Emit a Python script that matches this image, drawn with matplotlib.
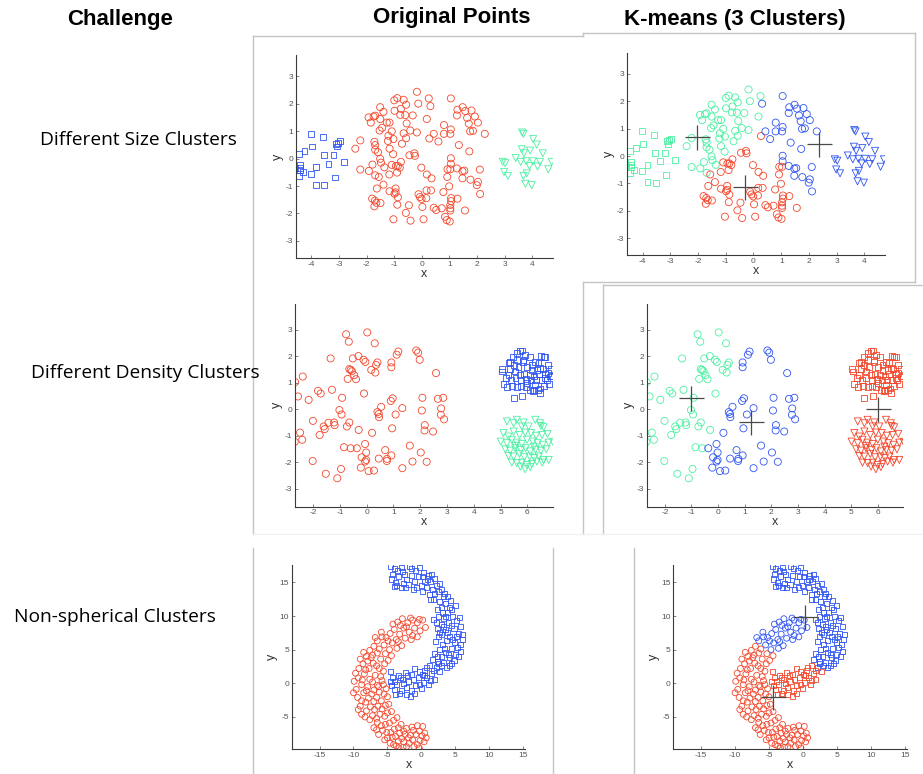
import numpy as np
import matplotlib
matplotlib.use("Agg")
import matplotlib.pyplot as plt
from matplotlib.lines import Line2D

matplotlib.rcParams["font.family"] = ["Liberation Sans", "DejaVu Sans"]
matplotlib.rcParams["axes.unicode_minus"] = False

W, H = 923, 774

RED = "#f4472c"
BLUE = "#2f55f2"
GREEN = "#4cf0a2"

# ---------------- data: row 1 (different size) ----------------
size_squares = [(-4.03, 0.90), (-3.58, 0.78), (-3.97, 0.44), (-4.25, 0.29), (-4.46, 0.18),
                (-3.11, 0.54), (-3.05, 0.58), (-2.98, 0.63), (-3.09, 0.44), (-3.20, 0.12),
                (-3.56, 0.12), (-3.38, -0.19), (-2.83, -0.13), (-3.82, -0.32), (-4.02, -0.56),
                (-4.43, -0.23), (-4.43, -0.33), (-4.58, -0.35), (-4.43, -0.41), (-4.31, -0.50),
                (-4.44, -0.63), (-3.16, -0.69), (-3.82, -0.95), (-3.53, -0.97)]

size_triangles = [(3.63, 0.95), (3.68, 0.90), (4.03, 0.71), (4.16, 0.51), (3.62, 0.34),
                  (3.92, 0.29), (3.70, 0.19), (4.38, 0.19), (3.40, 0.02), (3.58, -0.12),
                  (3.78, -0.10), (4.02, -0.10), (4.28, -0.12), (4.70, -0.12), (2.93, -0.12),
                  (3.02, -0.17), (3.90, -0.27), (4.19, -0.29), (4.58, -0.39), (2.98, -0.49),
                  (3.80, -0.54), (3.12, -0.63), (3.68, -0.63), (3.75, -0.92), (3.98, -0.97)]

size_circles = [(-0.18, 2.43), (1.05, 2.19), (0.25, 2.19), (-0.89, 2.20), (-1.00, 2.12),
                (-0.66, 2.14), (-0.13, 2.00), (-0.57, 1.96), (0.31, 1.91), (-1.51, 1.87),
                (-1.39, 1.70), (-0.99, 1.74), (-0.76, 1.81), (1.48, 1.87), (1.57, 1.73),
                (1.29, 1.78), (1.80, 1.75), (1.27, 1.57), (1.64, 1.48), (1.92, 1.53),
                (1.70, 1.27), (2.03, 1.31), (1.85, 1.01), (1.75, 0.99), (-1.93, 1.50),
                (-1.85, 1.31), (-1.75, 1.53), (-1.69, 1.56), (-1.51, 1.44), (-1.27, 1.31),
                (-1.17, 1.31), (-0.78, 1.59), (-0.60, 1.58), (-0.33, 1.57), (-0.55, 1.28),
                (0.18, 1.44), (-1.53, 1.02), (-1.44, 1.12), (-1.09, 0.99), (-1.21, 0.83),
                (-0.66, 0.92), (-0.57, 0.74), (-0.42, 1.02), (-0.18, 0.95), (0.27, 0.73),
                (0.60, 0.62), (0.43, 0.90), (0.80, 1.22), (0.80, 0.90), (1.03, 0.90),
                (1.05, 1.06), (2.28, 0.90), (1.34, 0.49), (-2.23, 0.66), (-1.72, 0.61),
                (-1.69, 0.49), (-1.23, 0.64), (-1.03, 0.71), (-1.17, 0.36), (-0.72, 0.54),
                (-2.41, 0.36), (-1.69, 0.32), (-1.59, 0.23), (-1.04, 0.16), (-0.27, 0.19),
                (-0.45, 0.12), (-0.25, 0.10), (-1.51, -0.01), (-1.48, -0.15), (1.05, 0.01),
                (1.72, 0.26), (-1.79, -0.22), (-1.36, -0.32), (-0.76, -0.12), (-0.87, -0.27),
                (-0.80, -0.33), (-1.09, -0.23), (-0.94, -0.27), (1.05, -0.19), (-0.02, -0.33),
                (1.03, -0.39), (0.93, -0.39), (1.27, -0.36), (1.47, -0.46), (1.54, -0.44),
                (2.10, -0.40), (-2.23, -0.40), (-1.92, -0.45), (-1.69, -0.61), (-1.56, -0.67),
                (-1.18, -0.58), (-0.90, -0.51), (0.18, -0.58), (0.35, -0.72), (0.92, -0.67),
                (1.47, -0.72), (1.76, -0.77), (2.03, -0.85), (1.99, -0.97), (-1.39, -0.95),
                (-1.63, -1.09), (0.99, -1.01), (-0.95, -1.09), (-0.95, -1.23), (-0.99, -1.28),
                (-0.87, -1.41), (-1.17, -1.19), (0.17, -1.16), (0.33, -1.16), (0.78, -1.22),
                (2.11, -1.29), (-1.80, -1.46), (-1.70, -1.53), (-1.65, -1.61), (-1.50, -1.62),
                (-1.72, -1.74), (-0.89, -1.68), (-0.12, -1.30), (-0.07, -1.40), (-0.01, -1.47),
                (0.16, -1.44), (1.06, -1.44), (1.06, -1.55), (1.03, -1.69), (1.29, -1.46),
                (1.03, -1.81), (1.03, -1.89), (-0.47, -1.70), (0.02, -1.76), (0.43, -1.79),
                (0.52, -1.87), (0.72, -1.81), (1.56, -1.89), (-0.58, -1.98), (-1.03, -2.21),
                (-0.41, -2.26), (0.06, -2.21), (0.84, -2.12), (0.90, -2.24), (1.01, -2.29)]

size_centroids = [(-2.05, 0.68), (-0.29, -1.13), (2.37, 0.43)]
size_centroid_colors = [GREEN, RED, BLUE]

# ---------------- data: row 2 (different density) ----------------
dens_circles = [(-0.77, 2.82), (-0.67, 2.54), (0.02, 2.89), (0.30, 2.48), (1.18, 2.17),
                (1.85, 2.21), (1.92, 2.13), (1.98, 1.86), (1.12, 2.05), (0.92, 1.76),
                (0.92, 1.58), (0.40, 1.76), (0.35, 1.67), (0.17, 1.48), (0.32, 1.38),
                (-0.12, 1.86), (-0.05, 1.78), (-0.31, 2.00), (-0.52, 1.91), (-1.35, 1.91),
                (-0.65, 1.51), (-0.60, 1.48), (-0.55, 1.43), (-0.47, 1.28), (-0.40, 1.13),
                (-0.71, 1.14), (2.59, 1.36), (-2.68, 1.02), (-2.39, 1.23), (-1.82, 0.69),
                (-1.72, 0.59), (-1.30, 0.73), (-2.17, 0.35), (-2.57, 0.48), (-0.92, 0.43),
                (-0.10, 0.59), (2.08, 0.43), (2.66, 0.39), (2.86, 0.43), (0.97, 0.41),
                (0.90, 0.31), (0.54, 0.09), (1.33, 0.04), (2.78, 0.03), (2.06, -0.05),
                (-1.02, -0.03), (-0.94, -0.20), (0.40, -0.11), (0.45, -0.18), (0.46, -0.30),
                (1.08, -0.20), (2.77, -0.21), (2.89, -0.38), (-2.01, -0.44), (-1.43, -0.51),
                (-1.22, -0.50), (-1.20, -0.60), (-1.61, -0.65), (-1.57, -0.75), (-0.65, -0.50),
                (-0.74, -0.65), (-1.76, -0.97), (-2.49, -0.88), (-2.41, -1.15), (-2.69, -1.23),
                (-0.30, -0.78), (0.20, -0.89), (2.17, -0.60), (2.16, -0.80), (2.48, -0.84),
                (0.95, -0.72), (-0.06, -1.31), (-0.85, -1.43), (-0.60, -1.47), (-0.37, -1.47),
                (-0.02, -1.63), (-0.19, -1.81), (-0.02, -1.91), (-0.06, -1.97), (0.69, -1.54),
                (0.92, -1.74), (0.76, -1.87), (0.75, -1.95), (0.45, -1.86), (1.61, -1.37),
                (2.02, -1.63), (1.71, -1.97), (2.24, -1.98), (-2.02, -1.95), (-1.53, -2.43),
                (-0.96, -2.25), (-1.10, -2.60), (-0.22, -2.20), (0.07, -2.33), (0.27, -2.31),
                (1.33, -2.22)]

dens_squares = [(5.04, 1.51), (5.05, 1.42), (5.30, 1.73), (5.36, 1.79), (5.46, 1.96),
                (5.61, 2.13), (5.74, 2.18), (5.80, 2.21), (5.92, 2.05), (6.09, 1.96),
                (6.30, 1.79), (6.51, 2.01), (6.61, 1.98), (6.67, 1.96), (5.49, 1.67),
                (5.67, 1.58), (5.84, 1.76), (5.99, 1.58), (6.17, 1.48), (6.36, 1.48),
                (6.48, 1.54), (6.58, 1.51), (6.76, 1.67), (6.88, 1.51), (5.36, 1.51),
                (5.55, 1.42), (5.74, 1.29), (5.89, 1.33), (6.09, 1.29), (6.26, 1.23),
                (6.43, 1.33), (6.67, 1.33), (6.86, 1.23), (6.92, 1.26), (5.21, 1.17),
                (5.39, 1.10), (5.56, 1.17), (5.76, 1.10), (5.96, 1.15), (6.14, 1.10),
                (6.33, 1.10), (6.53, 1.10), (6.73, 1.10), (5.11, 0.95), (5.24, 0.85),
                (5.44, 0.88), (5.61, 0.85), (5.76, 0.88), (5.94, 0.83), (6.11, 0.73),
                (6.26, 0.73), (6.46, 0.78), (6.61, 0.88), (6.80, 0.95), (6.21, 0.67),
                (5.49, 0.41), (5.80, 0.50), (6.48, 0.60), (6.39, 0.73), (6.67, 1.17),
                (5.86, 1.86), (6.17, 1.67), (6.42, 1.73), (5.61, 1.86), (5.99, 0.98),
                (6.30, 0.92), (5.30, 1.29), (6.76, 1.36)]

dens_triangles = [(5.24, -0.46), (5.49, -0.53), (5.61, -0.40), (5.86, -0.50), (6.05, -0.65),
                  (6.30, -0.40), (6.51, -0.63), (6.61, -0.68), (5.11, -0.90), (5.30, -1.03),
                  (5.49, -0.84), (5.71, -0.97), (5.92, -0.88), (6.14, -0.90), (6.33, -1.00),
                  (6.55, -0.97), (6.76, -0.93), (5.01, -1.22), (5.24, -1.28), (5.42, -1.15),
                  (5.61, -1.26), (5.80, -1.31), (5.99, -1.15), (6.21, -1.22), (6.39, -1.28),
                  (6.58, -1.34), (6.80, -1.26), (6.96, -1.23), (5.18, -1.51), (5.36, -1.56),
                  (5.55, -1.47), (5.76, -1.53), (5.94, -1.47), (6.11, -1.59), (6.31, -1.53),
                  (6.51, -1.56), (6.71, -1.51), (5.30, -1.76), (5.49, -1.78), (5.71, -1.68),
                  (5.89, -1.81), (6.09, -1.78), (6.26, -1.84), (6.43, -1.78), (6.61, -1.91),
                  (6.80, -1.91), (5.42, -2.01), (5.61, -2.03), (5.80, -2.01), (5.99, -2.10),
                  (6.17, -2.06), (6.36, -1.97), (6.56, -2.01), (5.74, -2.16), (5.92, -2.26),
                  (6.11, -2.18), (6.48, -0.53), (5.80, -0.65), (5.55, -1.38), (6.24, -1.41)]

dens_centroids = [(-1.02, 0.41), (1.24, -0.49), (6.00, 0.00)]
dens_centroid_colors = [GREEN, BLUE, RED]

# ---------------- data: row 3 (non-spherical) ----------------
moon_squares = [(-4.5, 17.4), (-4.2, 16.2), (-4.4, 15.5), (-3.8, 15.0), (-4.0, 14.4),
                (-3.5, 16.8), (-3.0, 17.2), (-3.3, 15.9), (-2.7, 14.8), (-3.0, 14.2),
                (-2.5, 16.2), (-2.2, 15.4), (-1.8, 17.3), (-1.5, 16.0), (-1.9, 14.7),
                (-1.2, 14.0), (-1.0, 15.2), (-0.8, 16.7), (-0.3, 17.2), (-0.5, 15.8),
                (0.0, 14.6), (0.3, 16.4), (0.5, 15.2), (0.2, 13.6), (0.8, 14.2),
                (1.0, 16.0), (1.4, 15.1), (1.2, 13.2), (1.7, 14.0), (1.9, 15.6),
                (2.2, 14.6), (1.8, 12.5), (2.5, 13.6), (2.6, 12.1), (3.0, 14.0),
                (3.2, 12.9), (2.9, 11.3), (3.5, 11.8), (3.8, 12.9), (2.3, 11.0),
                (4.2, 11.3), (3.8, 10.5), (2.5, 10.0), (3.2, 9.6), (4.6, 10.0),
                (5.0, 11.5), (1.8, 9.5), (2.9, 8.7), (4.0, 9.1), (5.2, 9.3),
                (3.5, 8.0), (4.8, 8.2), (2.3, 8.1), (5.8, 8.5), (3.0, 7.3),
                (4.2, 7.0), (5.4, 7.4), (2.5, 6.9), (3.7, 6.3), (4.9, 6.0),
                (6.0, 6.5), (5.3, 5.3), (2.1, 6.2), (3.1, 5.7), (4.4, 5.1),
                (2.6, 5.0), (3.6, 4.6), (5.0, 4.3), (1.9, 4.4), (2.9, 4.0),
                (4.2, 3.8), (5.5, 4.0), (1.6, 3.5), (3.3, 3.1), (2.4, 3.3),
                (4.5, 3.0), (3.7, 2.4), (1.2, 2.6), (2.2, 2.3), (0.5, 1.9),
                (1.5, 1.5), (2.7, 1.7), (-0.3, 1.8), (0.8, 0.9), (1.9, 0.6),
                (-1.0, 2.2), (-0.5, 0.8), (0.3, 0.1), (1.1, -0.2), (-1.5, 1.3),
                (-1.9, 0.3), (-0.9, -0.3), (0.0, -0.8), (-2.4, 1.6), (-2.8, 0.5),
                (-2.2, -0.6), (-1.4, -1.0), (-3.4, 1.2), (-3.6, -0.2), (-2.9, -1.1),
                (-2.2, -1.6), (-4.2, 0.8), (-4.4, -0.3), (-3.8, -1.6), (-4.5, 1.8),
                (-1.6, -1.9), (0.4, 1.2),
                (-4.0, 17.0), (-3.6, 14.6), (-2.8, 16.6), (-2.4, 14.2), (-1.4, 17.0),
                (-0.7, 14.3), (0.1, 15.9), (0.9, 15.5), (1.5, 16.2), (2.0, 13.4),
                (2.7, 14.9), (3.4, 13.3), (1.3, 12.4), (3.1, 10.5), (4.3, 12.3),
                (4.5, 11.0), (3.5, 10.0), (2.2, 9.0), (4.4, 8.6), (5.6, 9.8),
                (3.3, 8.4), (5.1, 7.0), (2.7, 7.6), (3.9, 7.5), (6.1, 7.3),
                (4.6, 6.5), (5.7, 5.8), (3.4, 5.2), (4.0, 4.3), (5.8, 4.8),
                (2.3, 4.0), (4.8, 3.4), (3.0, 2.7), (4.1, 2.6), (2.5, 2.9),
                (1.8, 1.9), (0.7, 2.4), (0.1, 1.3), (1.3, 0.4), (-0.3, -0.2),
                (-1.2, 0.5), (-2.0, 1.1), (-2.6, -0.1), (-3.1, 0.9), (-3.9, 0.2),
                (-4.0, -0.9), (-3.2, -1.5), (-1.0, -1.5), (-4.6, 0.3)]

moon_circles = [(0.2, 9.4), (-0.6, 9.0), (-1.3, 9.4), (-2.0, 9.0), (-2.8, 9.6),
                (-3.5, 9.1), (-1.0, 8.2), (-0.2, 7.8), (0.6, 8.3), (-1.8, 7.6),
                (-2.6, 8.2), (-3.2, 7.3), (-4.0, 8.0), (-4.6, 7.4), (-0.6, 6.9),
                (-1.5, 6.5), (-2.4, 6.7), (-3.7, 6.5), (-4.3, 6.0), (-5.2, 6.8),
                (-5.9, 7.6), (-6.5, 6.3), (-2.9, 5.6), (-3.6, 5.2), (-4.7, 5.0),
                (-5.5, 5.7), (-6.2, 5.1), (-7.0, 5.5), (-4.4, 4.1), (-5.3, 4.4),
                (-6.0, 3.6), (-7.2, 4.2), (-7.9, 3.3), (-8.5, 4.6), (-5.4, 2.9),
                (-6.6, 2.6), (-7.7, 2.2), (-8.6, 2.9), (-9.2, 2.2), (-5.6, 1.8),
                (-6.8, 1.2), (-7.6, 0.6), (-8.4, 1.4), (-9.3, 0.8), (-9.9, 0.3),
                (-5.8, 0.4), (-6.5, -0.3), (-7.9, -0.5), (-8.8, -0.2), (-9.6, -0.9),
                (-5.2, -0.8), (-6.2, -1.3), (-7.3, -1.6), (-8.5, -1.4), (-9.4, -2.1),
                (-5.0, -2.0), (-5.9, -2.6), (-7.0, -2.7), (-8.2, -2.8), (-9.0, -3.4),
                (-4.8, -3.1), (-5.8, -3.8), (-6.9, -3.9), (-8.1, -4.1), (-8.8, -4.6),
                (-4.4, -4.2), (-5.4, -4.9), (-6.6, -5.2), (-7.6, -5.4), (-3.6, -5.1),
                (-4.7, -5.9), (-5.9, -6.3), (-7.0, -6.6), (-3.0, -6.1), (-4.0, -6.8),
                (-5.1, -7.3), (-6.3, -7.6), (-2.2, -6.7), (-3.2, -7.4), (-4.3, -8.0),
                (-5.4, -8.4), (-1.4, -6.5), (-2.4, -7.6), (-3.4, -8.6), (-4.6, -8.9),
                (-0.6, -6.3), (-1.6, -7.7), (-2.6, -8.7), (-3.7, -9.3), (0.2, -6.4),
                (-0.8, -7.6), (-1.8, -8.9), (-2.7, -9.5), (0.5, -7.4), (-0.2, -8.5),
                (-1.1, -9.4), (0.4, -8.7), (-0.3, -9.6), (-7.4, 3.8), (-6.3, -0.5),
                (-1.6, 9.7), (-0.3, 9.5), (-3.1, 8.6), (-2.2, 8.4), (-4.2, 8.8),
                (-1.3, 7.1), (-3.4, 6.2), (-4.9, 6.3), (-5.8, 6.9), (-6.8, 6.8),
                (-6.5, 4.5), (-7.6, 4.9), (-4.9, 3.4), (-8.1, 4.0), (-6.2, 2.2),
                (-7.1, 3.0), (-8.2, 2.0), (-9.0, 3.6), (-6.0, 1.0), (-7.2, 0.2),
                (-8.7, 0.5), (-9.7, 1.5), (-5.6, -0.2), (-7.0, -1.0), (-8.1, -1.1),
                (-10.0, -1.4), (-5.5, -1.6), (-6.6, -2.1), (-7.8, -2.2), (-8.8, -2.6),
                (-5.3, -3.3), (-6.4, -3.4), (-7.5, -3.5), (-9.3, -3.9), (-5.0, -4.4),
                (-6.1, -4.6), (-7.2, -4.8), (-8.3, -5.0), (-4.1, -5.5), (-5.3, -6.1),
                (-6.5, -5.8), (-3.4, -6.6), (-4.5, -7.3), (-5.7, -7.0), (-6.6, -6.9),
                (-2.6, -7.1), (-3.8, -7.9), (-5.0, -8.1), (-1.9, -8.1), (-2.9, -8.2),
                (-4.1, -9.1), (-1.2, -7.0), (-1.3, -8.4), (-2.2, -9.4), (-0.3, -7.1),
                (0.7, -8.1), (-0.6, -9.1), (0.1, -7.8), (-3.3, -9.6)]

moon_centroids = [(0.25, 9.85), (-4.46, -1.98)]
moon_centroid_colors = [BLUE, RED]

# ---------------- layout (pixels of the 923x774 canvas) ----------------
AX_BOXES = {
    "size_orig": (295.7, 55, 552.7, 258),
    "size_km": (626.7, 52.7, 885, 255.3),
    "dens_orig": (295, 304, 552.7, 506.7),
    "dens_km": (646.7, 304, 903.3, 506.7),
    "moon_orig": (291.7, 565, 525.3, 749),
    "moon_km": (673.3, 565, 906.7, 749),
}


def px_box(x0, y0, x1, y1):
    return [x0 / W, 1 - y1 / H, (x1 - x0) / W, (y1 - y0) / H]


def fig_line(fig, x0, y0, x1, y1, color="#c4c4c4", lw=1.0):
    fig.add_artist(Line2D([x0 / W, x1 / W], [1 - y0 / H, 1 - y1 / H],
                          transform=fig.transFigure, color=color, lw=lw))


def style_axes(ax, xlim, ylim, xticks, yticks):
    ax.set_xlim(*xlim)
    ax.set_ylim(*ylim)
    ax.set_xticks(xticks)
    ax.set_yticks(yticks)
    for side in ("top", "right"):
        ax.spines[side].set_visible(False)
    for side in ("left", "bottom"):
        ax.spines[side].set_color("#3a3a3a")
        ax.spines[side].set_linewidth(0.8)
    ax.tick_params(direction="in", length=2, width=0.5, colors="#555555",
                   labelsize=6, pad=2)
    ax.set_xlabel("x", fontsize=9, color="#333333", labelpad=0)
    ax.set_ylabel("y", fontsize=9, color="#333333", labelpad=1)


def scatter(ax, pts, marker, colors, size):
    pts = np.array(pts)
    ax.scatter(pts[:, 0], pts[:, 1], marker=marker, s=size, facecolors="none",
               edgecolors=colors, linewidths=0.6)


def km_colors(pts, centroids, cols):
    # k-means result: every point takes the colour of its nearest centroid
    pts = np.array(pts)
    c = np.array(centroids)
    d = ((pts[:, None, :] - c[None, :, :]) ** 2).sum(axis=2)
    return [cols[i] for i in d.argmin(axis=1)]


def centroid_marks(ax, centroids, size):
    c = np.array(centroids)
    ax.plot(c[:, 0], c[:, 1], "+", color="#4a4a4a", markersize=size, mew=0.9, ls="none")


fig = plt.figure(figsize=(W / 100, H / 100), dpi=100)

# headers
hdr = dict(fontsize=16, fontweight="bold", ha="center", va="center")
fig.text(120 / W, 1 - 20 / H, "Challenge", **hdr)
fig.text(452 / W, 1 - 18 / H, "Original Points", **hdr)
fig.text(735 / W, 1 - 20 / H, "K-means (3 Clusters)", **hdr)

row = dict(fontsize=13.8, family=["Open Sans", "DejaVu Sans"], ha="center", va="center")
fig.text(138 / W, 1 - 140 / H, "Different Size Clusters", **row)
fig.text(145 / W, 1 - 373 / H, "Different Density Clusters", **row)
fig.text(115 / W, 1 - 617 / H, "Non-spherical Clusters", **row)

# screenshot frames
fig_line(fig, 253, 36, 583, 36)
fig_line(fig, 583, 36, 583, 33)
fig_line(fig, 583, 33, 915, 33)
fig_line(fig, 915, 33, 915, 282)
fig_line(fig, 583, 282, 915, 282)
fig_line(fig, 253, 36, 253, 534)
fig_line(fig, 583, 282, 583, 534)
fig_line(fig, 603, 285, 923, 285)
fig_line(fig, 603, 285, 603, 534)
fig_line(fig, 253, 534, 923, 534, color="#f0f0f0")
fig_line(fig, 253, 548, 253, 774)
fig_line(fig, 553, 548, 553, 774)
fig_line(fig, 634, 548, 634, 774)

# row 1
size_lims = ((-4.57, 4.74), (-3.62, 3.77))
ax = fig.add_axes(px_box(*AX_BOXES["size_orig"]))
scatter(ax, size_circles, "o", RED, 26)
scatter(ax, size_squares, "s", BLUE, 18)
scatter(ax, size_triangles, "v", GREEN, 26)
style_axes(ax, *size_lims, range(-4, 5), range(-3, 4))

ax = fig.add_axes(px_box(*AX_BOXES["size_km"]))
scatter(ax, size_circles, "o", km_colors(size_circles, size_centroids, size_centroid_colors), 26)
scatter(ax, size_squares, "s", km_colors(size_squares, size_centroids, size_centroid_colors), 18)
scatter(ax, size_triangles, "v", km_colors(size_triangles, size_centroids, size_centroid_colors), 26)
centroid_marks(ax, size_centroids, 18)
style_axes(ax, *size_lims, range(-4, 5), range(-3, 4))

# row 2
dens_lims = ((-2.68, 6.95), (-3.67, 3.96))
ax = fig.add_axes(px_box(*AX_BOXES["dens_orig"]))
scatter(ax, dens_circles, "o", RED, 26)
scatter(ax, dens_squares, "s", BLUE, 18)
scatter(ax, dens_triangles, "v", GREEN, 26)
style_axes(ax, *dens_lims, range(-2, 7), range(-3, 4))

ax = fig.add_axes(px_box(*AX_BOXES["dens_km"]))
scatter(ax, dens_circles, "o", km_colors(dens_circles, dens_centroids, dens_centroid_colors), 26)
scatter(ax, dens_squares, "s", km_colors(dens_squares, dens_centroids, dens_centroid_colors), 18)
scatter(ax, dens_triangles, "v", km_colors(dens_triangles, dens_centroids, dens_centroid_colors), 26)
centroid_marks(ax, dens_centroids, 18)
style_axes(ax, *dens_lims, range(-2, 7), range(-3, 4))

# row 3
moon_lims = ((-19.1, 15.3), (-9.76, 17.58))
ax = fig.add_axes(px_box(*AX_BOXES["moon_orig"]))
scatter(ax, moon_circles, "o", RED, 18)
scatter(ax, moon_squares, "s", BLUE, 13)
style_axes(ax, *moon_lims, range(-15, 16, 5), range(-5, 16, 5))

ax = fig.add_axes(px_box(*AX_BOXES["moon_km"]))
scatter(ax, moon_circles, "o", km_colors(moon_circles, moon_centroids, moon_centroid_colors), 18)
scatter(ax, moon_squares, "s", km_colors(moon_squares, moon_centroids, moon_centroid_colors), 13)
centroid_marks(ax, moon_centroids, 18)
style_axes(ax, *moon_lims, range(-15, 16, 5), range(-5, 16, 5))

fig.savefig("out.png", dpi=100)
